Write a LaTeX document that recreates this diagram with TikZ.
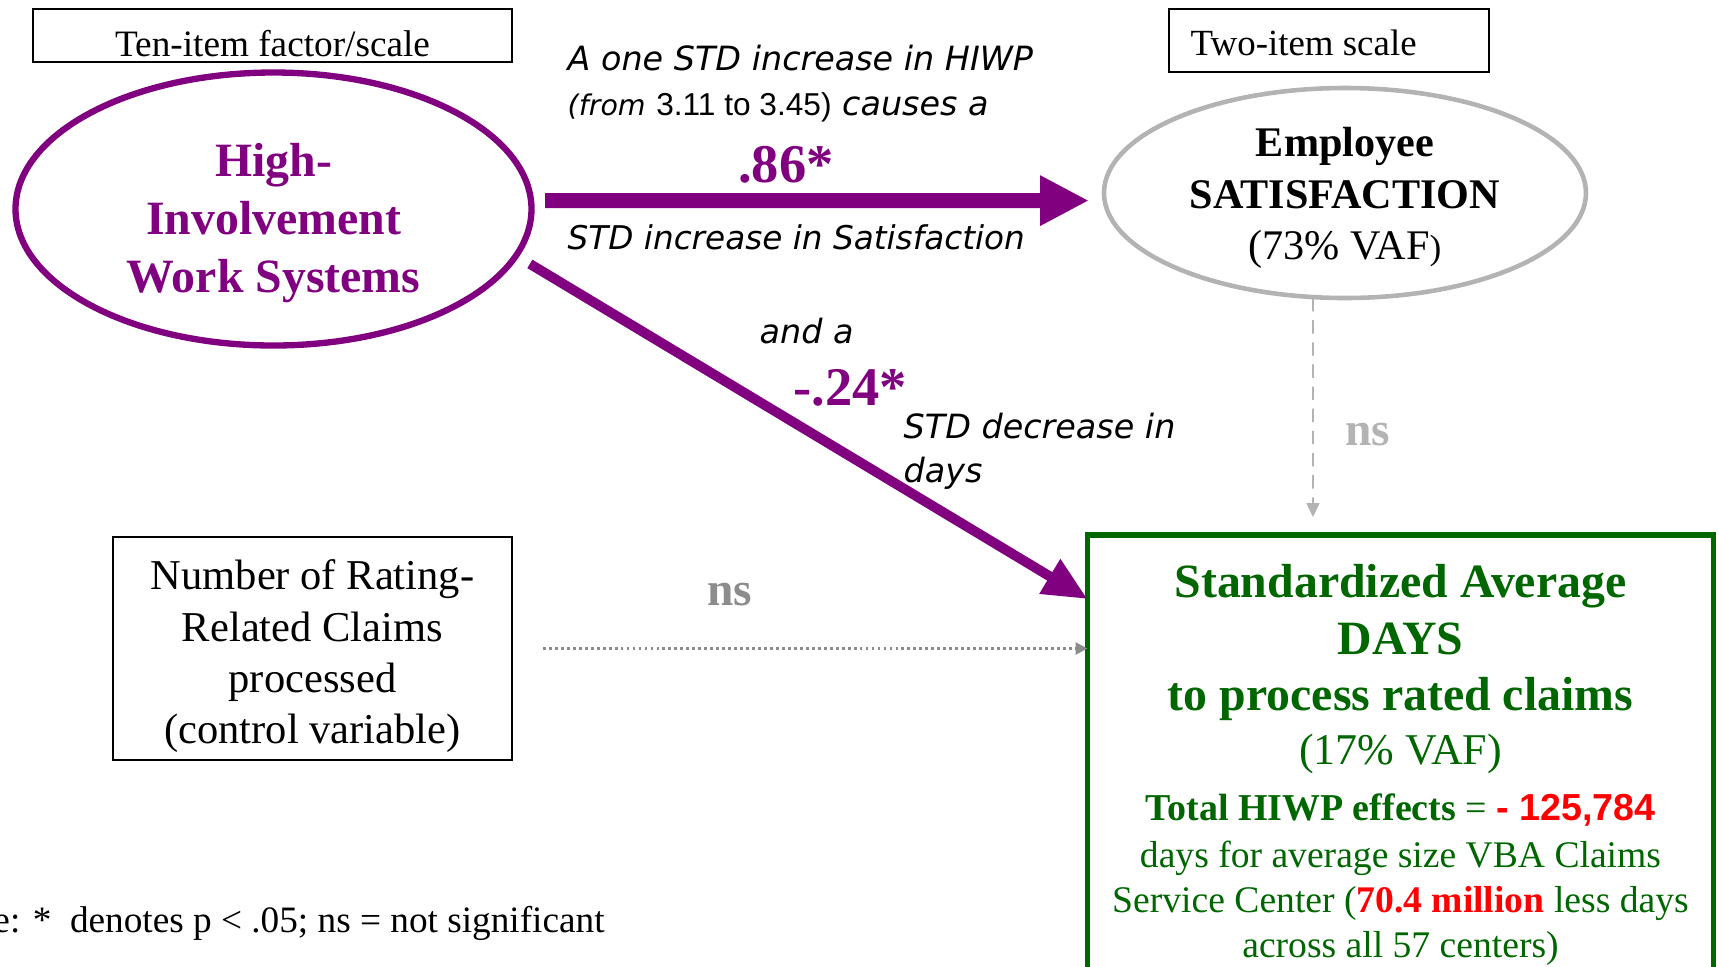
\documentclass[tikz,border=0pt]{standalone}
\usepackage{fontspec}
\setmainfont{Liberation Serif}
\setsansfont{Liberation Sans}
\newfontfamily\pathfont{DejaVu Sans}
\usetikzlibrary{arrows.meta,shapes.geometric,positioning}

\definecolor{hiwpurple}{HTML}{800080}
\definecolor{vbagreen}{HTML}{006600}
\definecolor{lightns}{HTML}{B3B3B3}
\definecolor{darkns}{HTML}{8C8C8C}

\tikzset{
  tagbox/.style={draw, line width=0.7pt, outer sep=0pt, inner sep=0pt},
  oval/.style={ellipse, outer sep=0pt, inner sep=0pt},
  pathtext/.style={font=\pathfont\itshape\fontsize{9.5}{12.5}\selectfont, inner sep=0pt},
  coef/.style={text=hiwpurple, font=\bfseries\fontsize{15.5}{18}\selectfont, inner sep=0pt},
  nslabel/.style={font=\bfseries\fontsize{13.5}{16}\selectfont, inner sep=0pt},
}

\begin{document}
\begin{tikzpicture}
      \useasboundingbox (0,0) rectangle (17.19,-9.66);
      \clip (0,0) rectangle (17.19,-9.66);
      % scale tags
      \node[tagbox, minimum width=4.79cm, minimum height=0.53cm] (tenbox) at (2.725,-0.355) {};
      \node[anchor=base, inner sep=0pt, font=\fontsize{10.6}{12.7}\selectfont] (tentext) at (2.725,-0.56) {Ten-item factor/scale};
      \node[tagbox, minimum width=3.20cm, minimum height=0.63cm] (twobox) at (13.29,-0.405) {};
      \node[anchor=base west, inner sep=0pt, font=\fontsize{10.5}{12.6}\selectfont] (twotext) at (11.90,-0.55) {Two-item scale};

      % latent variables
      \node[oval, draw=hiwpurple, line width=1.8pt, minimum width=5.16cm, minimum height=2.73cm] (hiws) at (2.735,-2.09) {};
      \node[align=center, text=hiwpurple, font=\bfseries\fontsize{13.6}{16.6}\selectfont] (hiwstext) at (2.735,-2.23) {High-\\Involvement\\Work Systems};
      \node[oval, draw=lightns, line width=1.3pt, minimum width=4.82cm, minimum height=2.10cm] (sat) at (13.45,-1.93) {};
      \node[align=center, font=\fontsize{12}{14.6}\selectfont] (sattext) at (13.45,-1.98) {\textbf{Employee}\\\textbf{SATISFACTION}\\(73\% VAF{\fontsize{10}{12}\selectfont)}};

      % control variable and outcome
      \node[tagbox, minimum width=3.99cm, minimum height=2.23cm] (ctrl) at (3.125,-6.485) {};
      \node[align=center, font=\fontsize{12.1}{14.6}\selectfont] (ctrltext) at (3.125,-6.565) {Number of Rating-\\Related Claims\\processed\\(control variable)};
      \node[draw=vbagreen, line width=1.6pt, outer sep=0pt, minimum width=6.26cm, minimum height=4.5cm] (days) at (14.005,-7.6) {};
      \node[text=vbagreen, align=center, font=\bfseries\fontsize{13.6}{16.2}\selectfont] (daystitle) at (14.005,-6.425) {Standardized Average\\DAYS\\to process rated claims};
      \node[text=vbagreen, font=\fontsize{12.5}{15}\selectfont] (daysvaf) at (14.005,-7.54) {(17\% VAF)};
      \node[text=vbagreen, font=\fontsize{10.8}{13}\selectfont] (daystotal) at (14.005,-8.10) {\textbf{Total HIWP effects} = {\sffamily\bfseries\color{red}\fontsize{10.7}{13}\selectfont - 125,784}};
      \node[text=vbagreen, align=center, font=\fontsize{10.7}{12.8}\selectfont] (daysnote) at (14.005,-9.03) {days for average size VBA Claims\\Service Center ({\color{red}\bfseries 70.4 million} less days\\across all 57 centers)};

      % paths
      \draw[hiwpurple, line width=4.3pt, -{Triangle[length=0.49cm,width=0.47cm]}] ([shift={(0.135,0.084)}]hiws.east) -- ([shift={(-0.15,-0.076)}]sat.west);
      \draw[hiwpurple, line width=2.8pt, -{Triangle[length=0.44cm,width=0.38cm]}] ([shift={(0.17,-0.04)}]hiws.-12) -- ([yshift=-0.64cm]days.north west);
      \draw[lightns, line width=0.5pt, dash pattern=on 3.8pt off 2.5pt, -{Triangle[length=0.14cm,width=0.13cm]}] ([xshift=-0.32cm]sat.south) -- ([shift={(-0.875,0.18)}]days.north);
      \draw[darkns, line width=0.8pt, dash pattern=on 0.8pt off 0.9pt, -{Triangle[length=0.12cm,width=0.12cm]}] ([xshift=0.31cm]ctrl.east) -- (ctrl.east -| days.west);

      % path labels
      \node[pathtext, anchor=west] (l1) at (5.67,-0.58) {A one STD increase in HIWP};
      \node[pathtext, anchor=west] (l2) at (5.67,-1.07) {{\fontsize{8.1}{10}\selectfont (from} {\upshape\sffamily\fontsize{9}{11}\selectfont 3.11 to 3.45)} causes a};
      \node[coef] (c86) at (7.86,-1.65) {.86*};
      \node[pathtext, anchor=west, font=\pathfont\itshape\fontsize{9.3}{12.5}\selectfont] (l3) at (5.67,-2.37) {STD increase in Satisfaction};
      \node[pathtext, anchor=west] (l4) at (7.59,-3.31) {and a};
      \node[coef] (c24) at (8.50,-3.88) {-.24*};
      \node[pathtext, anchor=west, align=left] (l5) at (9.03,-4.51) {STD decrease in\\days};
      \node[nslabel, text=lightns] (ns1) at (13.68,-4.35) {ns}; % satisfaction -> days
      \node[nslabel, text=darkns] (ns2) at (7.30,-5.95) {ns}; % claims -> days
      \node[anchor=east, font=\fontsize{10.6}{13}\selectfont] (note) at (6.17,-9.23) {Note: *~ denotes p < .05; ns = not significant};
\end{tikzpicture}
\end{document}
